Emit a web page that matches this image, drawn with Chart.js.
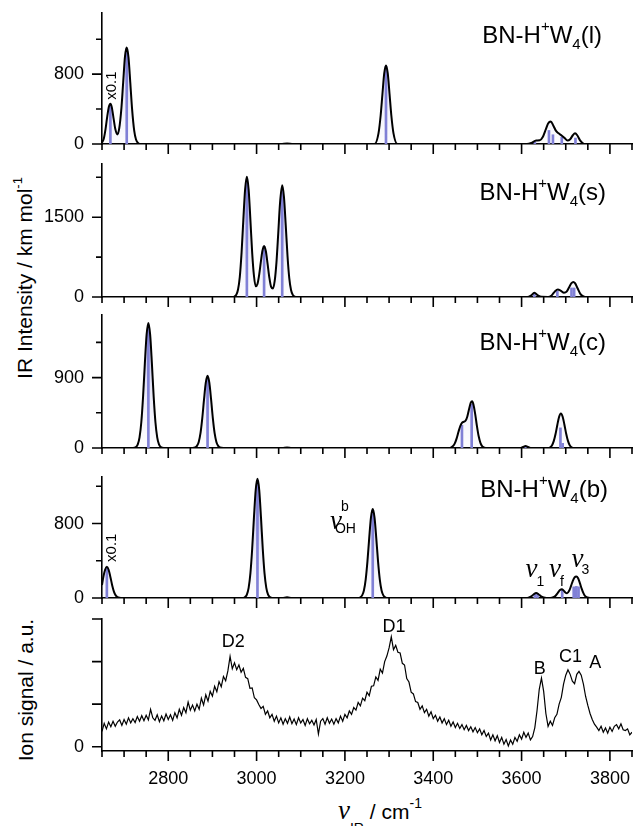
<!DOCTYPE html>
<html>
<head>
<meta charset="utf-8">
<script src="https://cdn.jsdelivr.net/npm/chart.js@4.4.0/dist/chart.umd.min.js"></script>
<style>
  html, body { margin: 0; padding: 0; background: #fff; }
  #wrap { position: relative; width: 634px; height: 826px; overflow: hidden;
          font-family: 'Liberation Sans', Arial, sans-serif; color: #000; }
  #wrap canvas { position: absolute; left: 0; }
  .ytitle { position: absolute; white-space: nowrap; font-size: 21px; line-height: 21px;
            transform: translate(-50%, -50%) rotate(-90deg); }
  .ytitle sup { font-size: 13px; vertical-align: 10px; line-height: 0; }
  #xtitle { position: absolute; left: 338px; top: 800px; font-size: 21px; line-height: 21px; white-space: nowrap; }
  #xtitle .nu { font-family: 'Liberation Serif', 'DejaVu Serif', serif; font-style: italic; font-size: 27px; }
  #xtitle sub { font-size: 14px; vertical-align: -14px; line-height: 0; }
  #xtitle sup { font-size: 14px; vertical-align: 11px; line-height: 0; }
</style>
</head>
<body>
<div id="wrap">
  <div class="ytitle" style="left:24px; top:278px;">IR Intensity / km mol<sup>-1</sup></div>
  <div class="ytitle" style="left:25px; top:690px;">Ion signal / a.u.</div>
  <div id="xtitle"><span class="nu">ν</span><sub>IR</sub> / cm<sup>-1</sup></div>
</div>
<script>
// x axis (shared)
const xTickValues = [2650, 2700, 2750, 2800, 2850, 2900, 2950, 3000, 3050, 3100, 3150, 3200, 3250,
                     3300, 3350, 3400, 3450, 3500, 3550, 3600, 3650, 3700, 3750, 3800, 3850];
const xLabelValues = [2800, 3000, 3200, 3400, 3600, 3800];

// BN-H+W4(l)
const curveL = [
  [2650, 15], [2654, 60], [2658, 170], [2662, 320], [2666, 435], [2669, 460], [2672, 425], [2676, 300], [2680, 175], [2685, 110],
  [2689, 178], [2694, 414], [2698, 710], [2702, 1000], [2706, 1104], [2710, 993], [2714, 707], [2718, 408], [2723, 149], [2727, 52], [2732, 10], [2738, 0],
  [3055, 0], [3069, 6], [3083, 0],
  [3267, 0], [3276, 121], [3281, 332], [3285, 575], [3289, 808], [3293, 898], [3297, 808], [3301, 575], [3305, 332], [3310, 121], [3319, 0],
  [3612, 0], [3622, 12], [3633, 40], [3641, 42], [3648, 80], [3655, 170], [3660, 235], [3666, 258], [3672, 210], [3678, 150], [3683, 125],
  [3690, 100], [3697, 70], [3704, 40], [3710, 55], [3716, 100], [3721, 122], [3726, 100], [3732, 45], [3738, 12], [3745, 0], [3850, 0]
];
const sticksLx = [2669, 2706, 3293, 3630, 3662, 3671, 3691, 3722];
const sticksLy = [455, 1095, 890, 25, 155, 106, 80, 68];
const yTicksL = [0, 400, 800, 1200];
const yLabelsL = [0, 800];
const yMaxL = 1500;

// BN-H+W4(s)
const curveS = [
  [2650, 0], [2944, 0], [2950, 9], [2954, 42], [2958, 140], [2962, 380], [2966, 835], [2970, 1450], [2974, 2020], [2978, 2260], [2982, 2020],
  [2986, 1450], [2990, 835], [2994, 404], [2998, 200], [3002, 244], [3006, 425], [3010, 684], [3013, 859], [3017, 960], [3021, 859],
  [3025, 617], [3029, 360], [3033, 190], [3037, 159], [3041, 301], [3045, 652], [3049, 1193], [3053, 1758], [3058, 2100], [3062, 1880],
  [3066, 1350], [3070, 775], [3074, 355], [3078, 132], [3082, 40], [3086, 9], [3092, 0],
  [3613, 0], [3621, 25], [3629, 80], [3637, 30], [3645, 3], [3660, 0], [3668, 30], [3675, 100], [3682, 139], [3689, 115], [3696, 80],
  [3702, 100], [3708, 190], [3713, 260], [3717, 283], [3721, 260], [3727, 160], [3733, 60], [3740, 12], [3748, 0], [3850, 0]
];
const sticksSx = [2978, 3017, 3058, 3629, 3681, 3713, 3719];
const sticksSy = [2200, 950, 2050, 70, 110, 170, 170];
const yTicksS = [0, 750, 1500, 2250];
const yLabelsS = [0, 1500];
const yMaxS = 2500;

// BN-H+W4(c)
const curveC = [
  [2650, 0], [2720, 0], [2727, 13], [2731, 46], [2735, 136], [2739, 329], [2743, 657], [2747, 1078], [2751, 1449], [2755, 1599],
  [2759, 1449], [2763, 1078], [2767, 657], [2771, 329], [2775, 136], [2779, 46], [2783, 13], [2790, 0],
  [2855, 0], [2861, 7], [2865, 27], [2869, 78], [2873, 190], [2877, 379], [2881, 621], [2885, 835], [2889, 922], [2893, 835],
  [2897, 621], [2901, 379], [2905, 190], [2909, 78], [2913, 27], [2917, 7], [2925, 0],
  [3058, 0], [3069, 6], [3080, 0],
  [3435, 0], [3441, 9], [3445, 26], [3449, 62], [3453, 123], [3457, 204], [3461, 278], [3465, 322], [3469, 335], [3473, 348],
  [3477, 400], [3481, 494], [3485, 579], [3488, 596], [3491, 556], [3495, 432], [3499, 277], [3503, 146], [3507, 63], [3511, 22], [3516, 4], [3522, 0],
  [3596, 0], [3603, 12], [3609, 25], [3615, 12], [3622, 0],
  [3660, 0], [3665, 10], [3669, 36], [3673, 91], [3677, 182], [3681, 298], [3685, 400], [3689, 442], [3693, 400], [3697, 298],
  [3701, 182], [3705, 91], [3709, 36], [3713, 10], [3720, 0], [3850, 0]
];
const sticksCx = [2755, 2889, 3465, 3487, 3609, 3688, 3693];
const sticksCy = [1560, 900, 290, 560, 20, 257, 60];
const yTicksC = [0, 450, 900, 1350];
const yLabelsC = [0, 900];
const yMaxC = 1700;

// BN-H+W4(b)
const curveB = [
  [2650, 140], [2653, 225], [2657, 304], [2661, 335], [2665, 304], [2669, 226], [2673, 138], [2677, 69], [2681, 28], [2685, 10], [2690, 2], [2696, 0],
  [2970, 0], [2974, 10], [2978, 37], [2982, 109], [2986, 264], [2990, 526], [2994, 863], [2998, 1160], [3002, 1280], [3006, 1160],
  [3010, 863], [3014, 526], [3018, 264], [3022, 109], [3026, 37], [3030, 10], [3036, 0],
  [3058, 0], [3069, 8], [3080, 0],
  [3231, 0], [3235, 8], [3239, 28], [3243, 81], [3247, 197], [3251, 393], [3255, 644], [3259, 866], [3263, 956], [3267, 866],
  [3271, 644], [3275, 393], [3279, 197], [3283, 81], [3287, 28], [3291, 8], [3297, 0],
  [3610, 0], [3617, 6], [3622, 18], [3627, 38], [3633, 54], [3639, 38], [3644, 18], [3650, 5], [3656, 0],
  [3665, 0], [3672, 8], [3677, 25], [3682, 55], [3687, 85], [3691, 95], [3695, 82], [3699, 60], [3703, 52], [3708, 80], [3712, 130],
  [3716, 185], [3720, 222], [3724, 232], [3728, 212], [3732, 160], [3736, 100], [3740, 52], [3744, 20], [3749, 5], [3755, 0], [3850, 0]
];
const sticksBx = [2661, 3002, 3263, 3630, 3636, 3692, 3718, 3724, 3729];
const sticksBy = [330, 1260, 940, 40, 45, 85, 120, 125, 120];
const yTicksB = [0, 400, 800, 1200];
const yLabelsB = [0, 800];
const yMaxB = 1300;

// measured ion signal, one value every 5 cm-1 starting at 2650
const expStart = 2650;
const expStep = 5;
const expSignal = [
  0.36, 0.55, 0.42, 0.58, 0.47, 0.60, 0.48, 0.58, 0.63, 0.50,   // 2650
  0.64, 0.53, 0.68, 0.56, 0.66, 0.57, 0.71, 0.60, 0.73, 0.61,   // 2700
  0.74, 0.63, 0.88, 0.68, 0.62, 0.75, 0.59, 0.72, 0.61, 0.77,   // 2750
  0.64, 0.75, 0.62, 0.80, 0.68, 0.88, 0.74, 0.92, 0.80, 1.05,   // 2800
  0.86, 0.98, 0.84, 1.00, 0.88, 1.14, 0.98, 1.22, 1.07, 1.30,   // 2850
  1.19, 1.42, 1.29, 1.53, 1.41, 1.65, 1.55, 1.78, 2.12, 1.83,   // 2900
  1.97, 1.81, 1.92, 1.75, 1.84, 1.63, 1.60, 1.37, 1.38, 1.15,   // 2950
  1.10, 0.99, 0.90, 0.95, 0.76, 0.84, 0.68, 0.76, 0.60, 0.72,   // 3000
  0.56, 0.68, 0.53, 0.66, 0.55, 0.70, 0.54, 0.65, 0.52, 0.68,   // 3050
  0.56, 0.64, 0.50, 0.66, 0.54, 0.62, 0.51, 0.64, 0.30, 0.60,   // 3100
  0.66, 0.53, 0.68, 0.55, 0.65, 0.53, 0.66, 0.56, 0.72, 0.60,   // 3150
  0.76, 0.68, 0.84, 0.76, 0.92, 0.86, 1.04, 0.96, 1.14, 1.08,   // 3200
  1.28, 1.20, 1.42, 1.43, 1.64, 1.56, 1.82, 1.73, 2.00, 2.13,   // 3250
  2.32, 2.58, 2.28, 2.38, 2.22, 2.20, 1.96, 1.92, 1.60, 1.52,   // 3300
  1.28, 1.24, 1.06, 1.04, 0.88, 0.96, 0.80, 0.88, 0.72, 0.82,   // 3350
  0.66, 0.74, 0.60, 0.70, 0.56, 0.66, 0.52, 0.62, 0.48, 0.58,   // 3400
  0.45, 0.55, 0.43, 0.52, 0.40, 0.50, 0.38, 0.47, 0.35, 0.45,   // 3450
  0.33, 0.42, 0.28, 0.38, 0.24, 0.32, 0.16, 0.28, 0.14, 0.26,   // 3500
  0.10, 0.22, 0.06, 0.17, 0.02, 0.16, 0.06, 0.22, 0.13, 0.28,   // 3550
  0.18, 0.34, 0.22, 0.32, 0.16, 0.24, 0.45, 0.85, 1.35, 1.61,   // 3600
  1.30, 0.78, 0.48, 0.60, 0.50, 0.68, 0.76, 1.00, 1.16, 1.47,   // 3650
  1.68, 1.81, 1.70, 1.54, 1.48, 1.70, 1.77, 1.68, 1.47, 1.18,   // 3700
  0.97, 0.78, 0.64, 0.53, 0.46, 0.38, 0.48, 0.34, 0.44, 0.32,   // 3750
  0.46, 0.36, 0.48, 0.52, 0.42, 0.54, 0.40, 0.38, 0.42, 0.28,   // 3800
  0.34                                                          // 3850
];
const yTicksExp = [0, 1, 2, 3];
const yLabelsExp = [0];

const FONT = "'Liberation Sans', Arial, sans-serif";
const SERIF = "'Liberation Serif', 'DejaVu Serif', serif";
const STICK = 'rgb(128, 128, 214)';
const PAD_T = 12;
const NU = `italic 27px ${SERIF}`;
const SMALL = `14px ${FONT}`;

function labelParts(tag) {
  return [
    { t: 'BN-H', f: `24px ${FONT}` },
    { t: '+', f: `15px ${FONT}`, dy: -12 },
    { t: 'W', f: `24px ${FONT}` },
    { t: '4', f: `15px ${FONT}`, dy: 6 },
    { t: tag, f: `24px ${FONT}` }
  ];
}

const panels = [
  { curve: curveL, sx: sticksLx, sy: sticksLy, max: yMaxL, yTicks: yTicksL, yLabels: yLabelsL,
    top: 13, bottom: 144, axisH: 14, label: labelParts('(l)'), labelRight: 602, labelBase: 43,
    notes: [{ x: 2673, y: 669, rot: true, parts: [{ t: 'x0.1', f: `15px ${FONT}` }] }] },
  { curve: curveS, sx: sticksSx, sy: sticksSy, max: yMaxS, yTicks: yTicksS, yLabels: yLabelsS,
    top: 164, bottom: 297, axisH: 14, label: labelParts('(s)'), labelRight: 606, labelBase: 200, notes: [] },
  { curve: curveC, sx: sticksCx, sy: sticksCy, max: yMaxC, yTicks: yTicksC, yLabels: yLabelsC,
    top: 315, bottom: 448, axisH: 14, label: labelParts('(c)'), labelRight: 606, labelBase: 350, notes: [] },
  { curve: curveB, sx: sticksBx, sy: sticksBy, max: yMaxB, yTicks: yTicksB, yLabels: yLabelsB,
    top: 477, bottom: 598, axisH: 14, label: labelParts('(b)'), labelRight: 608, labelBase: 497,
    notes: [
      { x: 2673, y: 540, rot: true, parts: [{ t: 'x0.1', f: `15px ${FONT}` }] },
      { x: 3166, y: 745, parts: [{ t: 'ν', f: NU }, { t: 'b', f: SMALL, dy: -18, dx: -1 }, { t: 'OH', f: SMALL, dy: 4, dx: -7, stack: true }] },
      { x: 3609, y: 224, parts: [{ t: 'ν', f: NU }, { t: '1', f: SMALL, dy: 9, dx: -1 }] },
      { x: 3662, y: 224, parts: [{ t: 'ν', f: NU }, { t: 'f', f: SMALL, dy: 9, dx: -1 }] },
      { x: 3713, y: 335, parts: [{ t: 'ν', f: NU }, { t: '3', f: SMALL, dy: 7, dx: -2 }] }
    ] },
  { exp: true, min: -0.1, max: 3, yTicks: yTicksExp, yLabels: yLabelsExp,
    top: 619, bottom: 751, axisH: 40, label: null,
    notes: [
      { x: 2947, y: 2.35, align: 'center', parts: [{ t: 'D2', f: `18px ${FONT}` }] },
      { x: 3311, y: 2.7, align: 'center', parts: [{ t: 'D1', f: `18px ${FONT}` }] },
      { x: 3641, y: 1.71, align: 'center', parts: [{ t: 'B', f: `18px ${FONT}` }] },
      { x: 3711, y: 2.0, align: 'center', parts: [{ t: 'C1', f: `18px ${FONT}` }] },
      { x: 3767, y: 1.86, align: 'center', parts: [{ t: 'A', f: `18px ${FONT}` }] }
    ] }
];

// text with super/subscripts, baseline at (x, y)
function drawRich(ctx, x, y, parts, align) {
  let cursor = 0, lastStart = 0;
  const placed = parts.map(p => {
    ctx.font = p.f;
    const w = ctx.measureText(p.t).width;
    const start = p.stack ? lastStart : cursor;
    lastStart = start;
    const sx = start + (p.dx || 0);
    cursor = Math.max(cursor, sx + w);
    return { p, sx };
  });
  const x0 = align === 'right' ? x - cursor : align === 'center' ? x - cursor / 2 : x;
  ctx.textAlign = 'left';
  ctx.textBaseline = 'alphabetic';
  placed.forEach(({ p, sx }) => {
    ctx.font = p.f;
    ctx.fillText(p.t, x0 + sx, y + (p.dy || 0));
  });
}

function panelPlugin(p, canvasTop) {
  return {
    id: 'panelDecor',
    afterDraw(chart) {
      const { ctx, scales: { x, y } } = chart;
      ctx.save();
      // tick marks, long for labelled values
      ctx.strokeStyle = '#000';
      ctx.lineWidth = 1.6;
      ctx.beginPath();
      xTickValues.forEach(v => {
        const px = x.getPixelForValue(v);
        const len = xLabelValues.includes(v) ? 10 : 6;
        ctx.moveTo(px, x.top);
        ctx.lineTo(px, x.top + len);
      });
      p.yTicks.forEach(v => {
        const py = y.getPixelForValue(v);
        const len = (p.yLabels.includes(v) || p.exp) ? 10 : 6;
        ctx.moveTo(y.right, py);
        ctx.lineTo(y.right - len, py);
      });
      ctx.stroke();
      ctx.fillStyle = '#000';
      if (p.label) drawRich(ctx, p.labelRight, p.labelBase - canvasTop, p.label, 'right');
      p.notes.forEach(n => {
        const px = x.getPixelForValue(n.x);
        const py = y.getPixelForValue(n.y);
        if (n.rot) {
          ctx.save();
          ctx.translate(px, py);
          ctx.rotate(-Math.PI / 2);
          ctx.font = n.parts[0].f;
          ctx.textAlign = 'center';
          ctx.textBaseline = 'middle';
          ctx.fillText(n.parts[0].t, 0, 0);
          ctx.restore();
        } else {
          drawRich(ctx, px, py, n.parts, n.align || 'left');
        }
      });
      ctx.restore();
    }
  };
}

function peakFill(c) {
  const area = c.chart.chartArea;
  if (!area) return 'rgba(0,0,0,0)';
  const g = c.chart.ctx.createLinearGradient(0, area.top, 0, area.bottom);
  g.addColorStop(0, 'rgba(95, 95, 205, 0.55)');
  g.addColorStop(0.6, 'rgba(120, 120, 215, 0.15)');
  g.addColorStop(1, 'rgba(140, 140, 220, 0.02)');
  return g;
}

// the axis boxes get fixed sizes and no extra label padding
function fixBox(size, horizontal) {
  return s => {
    if (horizontal) s.height = size; else s.width = size;
    s.paddingTop = 0; s.paddingBottom = 0; s.paddingLeft = 0; s.paddingRight = 0;
  };
}

const wrap = document.getElementById('wrap');

panels.forEach((p, i) => {
  const canvasTop = p.top - PAD_T;
  const height = p.bottom - p.top + PAD_T + p.axisH;
  const cv = document.createElement('canvas');
  cv.width = 634;
  cv.height = height;
  cv.style.top = canvasTop + 'px';
  cv.style.width = '634px';
  cv.style.height = height + 'px';
  wrap.appendChild(cv);

  let datasets;
  if (p.exp) {
    datasets = [{
      type: 'line',
      data: expSignal.map((v, k) => [expStart + k * expStep, v]),
      borderColor: '#000', borderWidth: 1.2, pointRadius: 0, tension: 0, fill: false
    }];
  } else {
    datasets = [
      { type: 'line', data: p.curve, borderColor: '#000', borderWidth: 2, pointRadius: 0,
        fill: false, cubicInterpolationMode: 'monotone', borderJoinStyle: 'round', order: 0 },
      { type: 'bar', data: p.sx.map((x, k) => ({ x, y: p.sy[k] })), backgroundColor: STICK,
        borderWidth: 0, barThickness: 2, grouped: false, order: 1 },
      { type: 'line', data: p.curve, borderWidth: 0, pointRadius: 0, fill: 'origin',
        backgroundColor: peakFill, cubicInterpolationMode: 'monotone', order: 2 }
    ];
  }

  const last = i === panels.length - 1;
  new Chart(cv, {
    type: 'line',
    data: { datasets },
    options: {
      responsive: false,
      animation: false,
      devicePixelRatio: 1,
      events: [],
      layout: { autoPadding: false, padding: { top: PAD_T, right: 2, bottom: 0, left: 0 } },
      plugins: { legend: { display: false }, tooltip: { enabled: false } },
      scales: {
        x: {
          type: 'linear', min: 2650, max: 3850, offset: false,
          grid: { display: false, drawTicks: false },
          border: { display: true, color: '#000', width: 1.6 },
          afterBuildTicks: s => { s.ticks = xTickValues.map(v => ({ value: v })); },
          afterFit: fixBox(p.axisH, true),
          ticks: {
            display: last, autoSkip: false, maxRotation: 0, minRotation: 0, padding: 17,
            color: '#000', font: { family: FONT, size: 18 },
            callback: v => xLabelValues.includes(v) ? String(v) : ''
          }
        },
        y: {
          type: 'linear', min: p.exp ? p.min : 0, max: p.max,
          grid: { display: false, drawTicks: false },
          border: { display: true, color: '#000', width: 1.6 },
          afterBuildTicks: s => { s.ticks = p.yTicks.map(v => ({ value: v })); },
          afterFit: fixBox(102, false),
          ticks: {
            autoSkip: false, padding: 18, color: '#000', font: { family: FONT, size: 18 },
            callback: v => p.yLabels.includes(v) ? String(v) : ''
          }
        }
      }
    },
    plugins: [panelPlugin(p, canvasTop)]
  });
});
</script>
</body>
</html>
